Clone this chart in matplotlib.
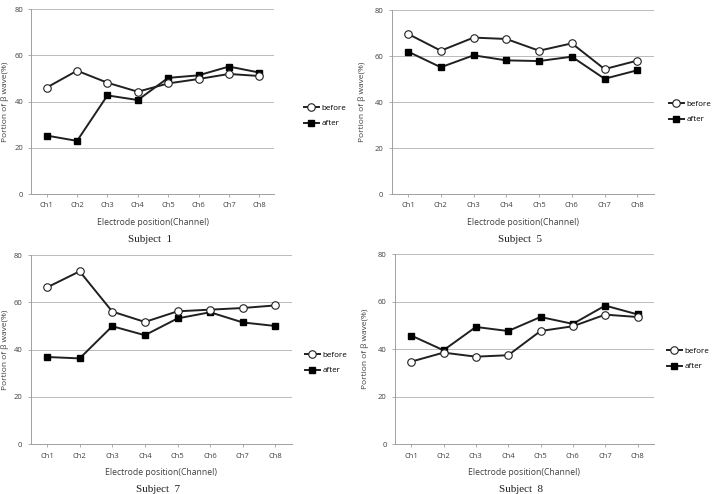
import numpy as np
import matplotlib

matplotlib.use("Agg")
import matplotlib.pyplot as plt
from matplotlib import rcParams

rcParams.update({
    "font.family": ["Open Sans", "DejaVu Sans"],
    "font.size": 5.5,
    "axes.edgecolor": "#a0a0a0",
    "xtick.color": "#a0a0a0", "ytick.color": "#a0a0a0",
    "xtick.labelcolor": "#404040", "ytick.labelcolor": "#404040",
})

channels = ["Ch1", "Ch2", "Ch3", "Ch4", "Ch5", "Ch6", "Ch7", "Ch8"]
yticks = [0, 20, 40, 60, 80]

s1_before = [46.1, 53.4, 48.2, 44.3, 47.9, 49.8, 52.0, 51.1]
s1_after = [25.3, 23.0, 42.7, 40.7, 50.3, 51.4, 55.2, 52.6]
s5_before = [69.6, 62.3, 68.0, 67.4, 62.3, 65.5, 54.3, 58.0]
s5_after = [61.9, 55.1, 60.3, 58.1, 57.8, 59.7, 50.1, 53.8]
s7_before = [66.3, 73.1, 56.1, 51.7, 56.2, 56.9, 57.6, 58.7]
s7_after = [36.9, 36.3, 49.9, 46.1, 53.2, 55.8, 51.5, 50.0]
s8_before = [34.8, 38.6, 36.9, 37.5, 47.7, 49.7, 54.6, 53.6]
s8_after = [45.8, 39.6, 49.4, 47.7, 53.6, 50.7, 58.4, 54.7]

W, H = 712, 494
# (left, top, right, bottom) in pixels, subject name, data, ylabel x, legend (x, y)
panels = [
    ((31.5, 9.3, 274.5, 194), "Subject  1", s1_before, s1_after, 5, (304, 104)),
    ((391.7, 10, 653.7, 194), "Subject  5", s5_before, s5_after, 362, (669, 100)),
    ((30.7, 255, 291.7, 444.3), "Subject  7", s7_before, s7_after, 5, (305, 351)),
    ((395, 254.3, 653.7, 444.3), "Subject  8", s8_before, s8_after, 365, (667, 347)),
]

fig = plt.figure(figsize=(W / 100, H / 100), dpi=100)
fig.patch.set_facecolor("white")

x = np.arange(1, len(channels) + 1)
for (l, t, r, b), name, before, after, ylx, (lx, ly) in panels:
    ax = fig.add_axes([l / W, 1 - b / H, (r - l) / W, (b - t) / H])
    ax.plot(x, before, "-o", color="#202020", lw=1.4, ms=5.4,
            mfc="white", mec="#202020", mew=0.8, label="before", zorder=4)
    ax.plot(x, after, "-s", color="#202020", lw=1.4, ms=4.2,
            mfc="black", mec="black", label="after", zorder=3)

    ax.set_xlim(0.5, 8.5)
    ax.set_ylim(0, 80)
    ax.set_yticks(yticks)
    ax.set_xticks(x)
    ax.set_xticklabels(channels)
    ax.grid(axis="y", color="#b0b0b0", lw=0.6)
    ax.set_axisbelow(True)
    for s in ("top", "right"):
        ax.spines[s].set_visible(False)
    ax.spines["left"].set_linewidth(0.7)
    ax.spines["bottom"].set_linewidth(0.7)
    ax.tick_params(length=2, width=0.6, pad=4)

    ax.set_xlabel("Electrode position(Channel)", fontsize=6.2, color="#404040", labelpad=6)
    fig.text(ylx / W, 1 - ((t + b) / 2) / H, "Portion of β wave(%)", rotation=90,
             ha="center", va="center", fontsize=6, color="#404040")
    fig.text(((l + r) / 2 - 3) / W, 1 - (b + 45) / H, name, ha="center", va="center",
             fontsize=8, family="Liberation Serif", color="#202020")

    ax.legend(loc="upper left", bbox_to_anchor=(lx / W, 1 - ly / H),
              bbox_transform=fig.transFigure, frameon=False, fontsize=5.8,
              handlelength=1.8, handletextpad=0.35, labelspacing=1.0,
              borderaxespad=0, borderpad=0)

fig.savefig("out.png", dpi=100)
